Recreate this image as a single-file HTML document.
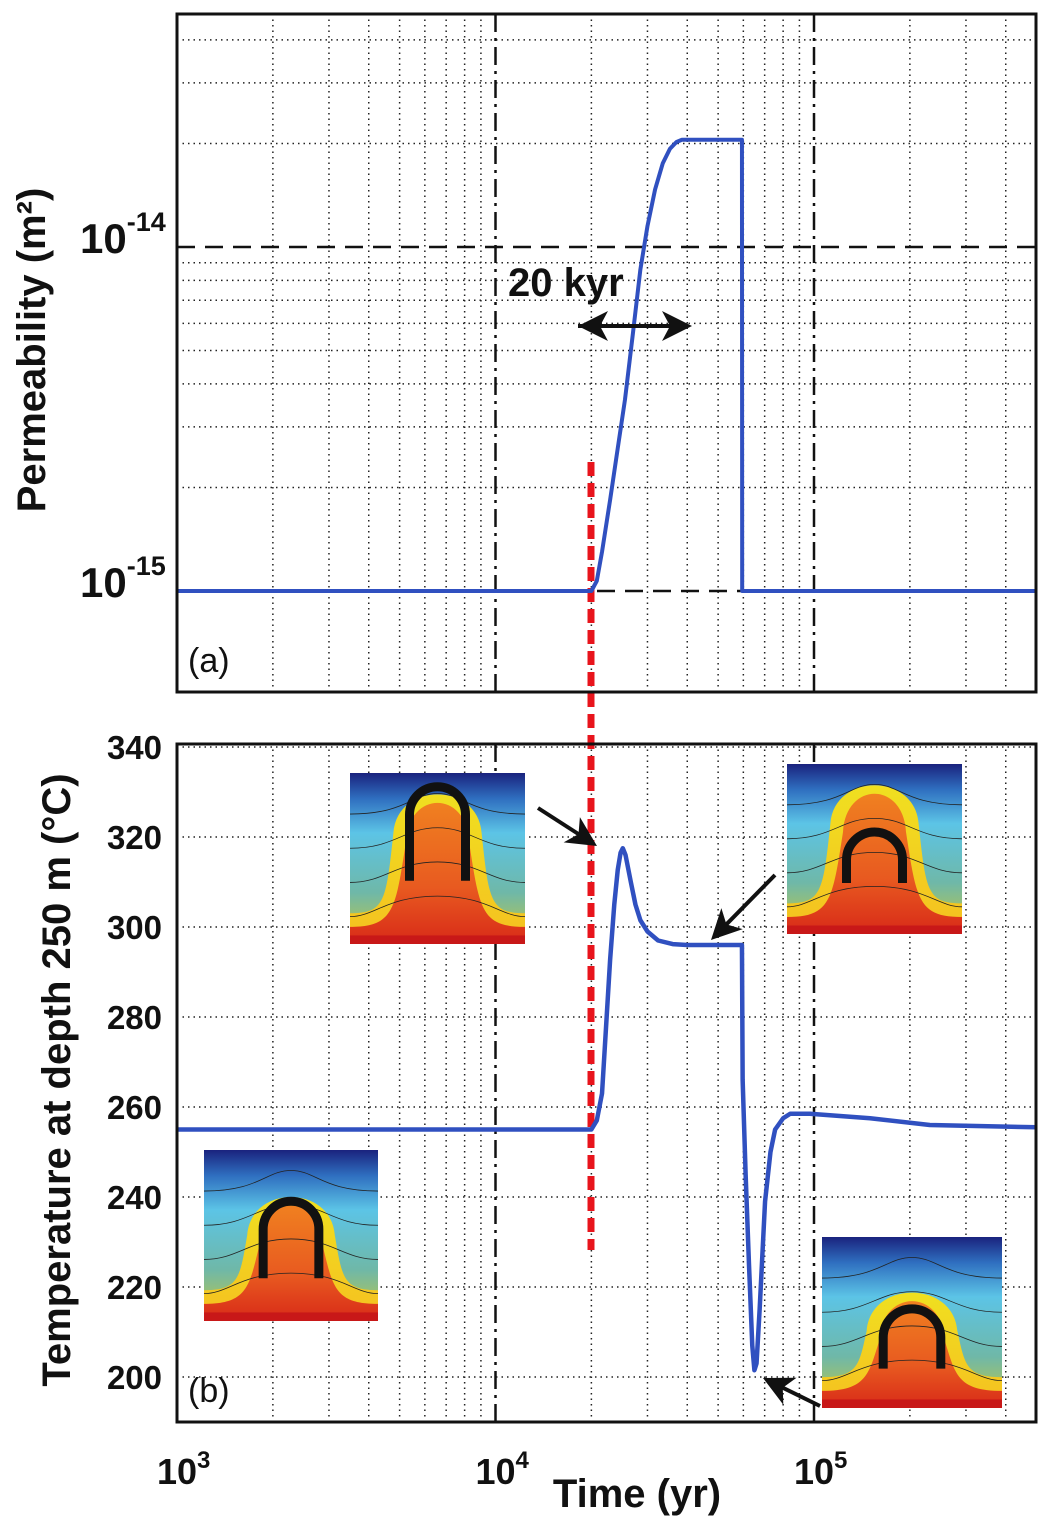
<!DOCTYPE html>
<html><head><meta charset="utf-8"><style>
body{margin:0;background:#fff;}
svg{display:block;}
text{font-family:"Liberation Sans Narrow","Liberation Sans",sans-serif;font-weight:bold;fill:#111;}
</style></head><body>
<svg id="fig" width="1040" height="1520" viewBox="0 0 1040 1520" xmlns="http://www.w3.org/2000/svg">
<defs>
<linearGradient id="bg" x1="0" y1="0" x2="0" y2="1">
<stop offset="0" stop-color="#1a237e"/><stop offset="0.15" stop-color="#2f6fc0"/><stop offset="0.35" stop-color="#5cc4e6"/><stop offset="0.7" stop-color="#6fb8a8"/><stop offset="0.85" stop-color="#9cc070"/><stop offset="1" stop-color="#c8d050"/>
</linearGradient>
<linearGradient id="plume" x1="0" y1="0" x2="0" y2="1">
<stop offset="0" stop-color="#f0e020"/><stop offset="1" stop-color="#f5c020"/>
</linearGradient>
<linearGradient id="core" x1="0" y1="0" x2="0" y2="1">
<stop offset="0" stop-color="#f08020"/><stop offset="0.6" stop-color="#e85a20"/><stop offset="1" stop-color="#d82a18"/>
</linearGradient>
</defs>
<g id="grid"></g>
<g id="plots"></g>
<g id="ann"></g>
</svg>
<script>
// ---- data ----
const permTimes = [1000, 20000, 20800, 21600, 22900, 24200, 25500, 27000, 28500, 30000, 31700, 33500, 35300, 37000, 38500, 59400, 59500, 500000];
const permValues = [1e-15, 1e-15, 1.07e-15, 1.3e-15, 1.84e-15, 2.6e-15, 3.6e-15, 5.6e-15, 8.6e-15, 1.15e-14, 1.47e-14, 1.75e-14, 1.93e-14, 2.02e-14, 2.05e-14, 2.05e-14, 1e-15, 1e-15];
const tempTimes = [1000, 20000, 20800, 21600, 22900, 23600, 24200, 24700, 25100, 25600, 26600, 27500, 28500, 30000, 32400, 36000, 40000, 59400, 59700, 61000, 62500, 64000, 65000, 66000, 67500, 70200, 73000, 75500, 80000, 84200, 97000, 150000, 231000, 500000];
const tempValues = [255, 255, 257, 263, 292.7, 305, 312.7, 316.5, 317.5, 316, 310, 305, 301.5, 299, 297, 296.2, 296, 296, 266, 245, 225, 207, 201.5, 203, 215, 239, 250, 255, 257.5, 258.5, 258.5, 257.5, 256, 255.5];
const xTickLabels = ["3", "4", "5"];
const tempTicks = [200, 220, 240, 260, 280, 300, 320, 340];
const permTickExps = ["-15", "-14"];

const NS = "http://www.w3.org/2000/svg";
const X0 = 177, X1 = 1036, DEC = 318.5;
const A0 = 14, A1 = 692, B0 = 744, B1 = 1422;
function xS(t){ return X0 + (Math.log10(t) - 3) * DEC; }
function yA(k){ return 591 - (Math.log10(k) + 15) * 344; }
function yB(T){ return 1377 - (T - 200) * 4.5; }
function mk(tag, attrs, parent){ const e = document.createElementNS(NS, tag); for (const k in attrs) e.setAttribute(k, attrs[k]); parent.appendChild(e); return e; }
const grid = document.getElementById('grid'), plots = document.getElementById('plots'), ann = document.getElementById('ann');
const GS = {stroke:'#222', 'stroke-width':1.5, 'stroke-dasharray':'1.5 4'};

for (let d = 3; d <= 5; d++) for (let m = 2; m <= 9; m++) {
  const t = m * Math.pow(10, d); const x = xS(t); if (x >= X1) continue;
  for (const [y0, y1] of [[A0, A1], [B0, B1]]) {
    const l = mk('line', Object.assign({x1:x, x2:x, y1:y0, y2:y1}, GS), grid);
    
    
  }
}
for (let d = -15; d <= -14; d++) for (let m = 2; m <= 9; m++) {
  const y = yA(m * Math.pow(10, d)); if (y < A0) continue;
  const l = mk('line', Object.assign({x1:X0, x2:X1, y1:y, y2:y}, GS), grid);
  
  
}
tempTicks.forEach(T => {
  const y = yB(T);
  const l = mk('line', Object.assign({x1:X0, x2:X1, y1:y, y2:y}, GS), grid);
  
  
});
[1e4, 1e5].forEach(t => {
  for (const [y0, y1] of [[A0, A1], [B0, B1]]) {
    const l = mk('line', {x1:xS(t), x2:xS(t), y1:y0, y2:y1, stroke:'#111', 'stroke-width':2.5, 'stroke-dasharray':'18 6 3 6'}, grid);
    
    
  }
});
[1e-15, 1e-14].forEach(k => {
  const l = mk('line', {x1:X0, x2:X1, y1:yA(k), y2:yA(k), stroke:'#111', 'stroke-width':2.5, 'stroke-dasharray':'18 10'}, grid);
  
  
});

function inset(x, y, w, h, archTop, archH, plumeTop, name){
  const g = mk('g', {}, plots);
  
  
  mk('rect', {x:x, y:y, width:w, height:h, fill:'url(#bg)'}, g);
  const cx = x + w/2;
  const pw = w*0.42, py = y + h*plumeTop;
  mk('path', {d:`M${x} ${y+h*0.82} C${x+w*0.2} ${y+h*0.82} ${cx-pw*0.7} ${y+h*0.75} ${cx-pw*0.6} ${py+h*0.3} C${cx-pw*0.55} ${py} ${cx+pw*0.55} ${py} ${cx+pw*0.6} ${py+h*0.3} C${cx+pw*0.7} ${y+h*0.75} ${x+w*0.8} ${y+h*0.82} ${x+w} ${y+h*0.82} L${x+w} ${y+h} L${x} ${y+h} Z`, fill:'url(#plume)'}, g);
  const cw = w*0.3;
  mk('path', {d:`M${x} ${y+h*0.9} C${x+w*0.25} ${y+h*0.9} ${cx-cw*0.8} ${y+h*0.8} ${cx-cw*0.6} ${py+h*0.35} C${cx-cw*0.55} ${py+h*0.05} ${cx+cw*0.55} ${py+h*0.05} ${cx+cw*0.6} ${py+h*0.35} C${cx+cw*0.8} ${y+h*0.8} ${x+w*0.75} ${y+h*0.9} ${x+w} ${y+h*0.9} L${x+w} ${y+h} L${x} ${y+h} Z`, fill:'url(#core)'}, g);
  mk('rect', {x:x, y:y+h*0.95, width:w, height:h*0.05, fill:'#c81818'}, g);
  for (let i = 0; i < 4; i++) {
    const yy = y + h*(0.12 + i*0.2), ww = w*(0.18 + i*0.06);
    mk('path', {d:`M${x} ${yy+h*0.12} C${cx-ww} ${yy+h*0.12} ${cx-ww*0.8} ${yy} ${cx} ${yy} C${cx+ww*0.8} ${yy} ${cx+ww} ${yy+h*0.12} ${x+w} ${yy+h*0.12}`, fill:'none', stroke:'#222', 'stroke-width':0.8}, g);
  }
  const aw = w*0.16, at = y + h*archTop, ab = at + h*archH;
  mk('path', {d:`M${cx-aw} ${ab} L${cx-aw} ${at+aw} A${aw} ${aw} 0 0 1 ${cx+aw} ${at+aw} L${cx+aw} ${ab}`, fill:'none', stroke:'#111', 'stroke-width':9}, g);
}
inset(350, 773, 175, 171, 0.08, 0.55, 0.05, 'inset-peak');
inset(787, 764, 175, 170, 0.4, 0.3, 0.05, 'inset-plateau');
inset(204, 1150, 174, 171, 0.3, 0.45, 0.2, 'inset-initial');
inset(822, 1237, 180, 171, 0.42, 0.35, 0.25, 'inset-minimum');

const red = mk('line', {x1:591, x2:591, y1:462, y2:1250, stroke:'#e8141c', 'stroke-width':7, 'stroke-dasharray':'14 7'}, plots);



const pA = mk('polyline', {points: permTimes.map((t,i)=>xS(t)+','+yA(permValues[i])).join(' '), fill:'none', stroke:'#3050c0', 'stroke-width':4, 'stroke-linejoin':'round'}, plots);


const pB = mk('polyline', {points: tempTimes.map((t,i)=>xS(t)+','+yB(tempValues[i])).join(' '), fill:'none', stroke:'#3050c0', 'stroke-width':4.5, 'stroke-linejoin':'round'}, plots);



[[A0, A1, 'panel-a-frame'], [B0, B1, 'panel-b-frame']].forEach(([y0, y1, n]) => {
  const r = mk('rect', {x:X0, y:y0, width:X1-X0, height:y1-y0, fill:'none', stroke:'#111', 'stroke-width':3}, plots);
  
  
});

function txt(s, attrs, parent, name){ const e = mk('text', attrs, parent); e.textContent = s;   return e; }
xTickLabels.forEach((e, i) => {
  const x = xS(Math.pow(10, +e));
  const t = mk('text', {x:x-20, y:1484, 'font-size':36}, ann);
  
  
  t.textContent = '10';
  const s = mk('tspan', {dy:-16, 'font-size':24}, t); s.textContent = e;
});
permTickExps.forEach(e => {
  const y = yA(Math.pow(10, +e));
  const t = mk('text', {x:80, y:y+6, 'font-size':42}, ann);
  
  
  t.textContent = '10';
  const s = mk('tspan', {dy:-22, 'font-size':27}, t); s.textContent = e;
});
tempTicks.forEach(T => txt(String(T), {x:162, y:yB(T)+12, 'font-size':33, 'text-anchor':'end'}, ann, 'y-tick-label-b'));

txt('Permeability  (m²)', {x:0, y:0, 'font-size':40, 'text-anchor':'middle', transform:'translate(45,350) rotate(-90)'}, ann, 'y-axis-title-a');
txt('Temperature at depth 250 m  (°C)', {x:0, y:0, 'font-size':40, 'text-anchor':'middle', transform:'translate(70,1080) rotate(-90)'}, ann, 'y-axis-title-b');
txt('Time (yr)', {x:637, y:1507, 'font-size':40, 'text-anchor':'middle'}, ann, 'x-axis-title');
const pa = txt('(a)', {x:188, y:672, 'font-size':34}, ann, 'panel-label-a'); pa.style.fontWeight = 'normal'; pa.style.fontFamily = '"Liberation Sans",sans-serif';
const pb = txt('(b)', {x:188, y:1402, 'font-size':34}, ann, 'panel-label-b'); pb.style.fontWeight = 'normal'; pb.style.fontFamily = '"Liberation Sans",sans-serif';
txt('20 kyr', {x:508, y:296, 'font-size':40}, ann, 'duration-label');

function arrow(x1, y1, x2, y2, name, both){
  const g = mk('g', {}, ann);
  
  
  const a = Math.atan2(y2-y1, x2-x1), L = 30, W = 15;
  function head(px, py, ang){
    const bx = px - L*Math.cos(ang), by = py - L*Math.sin(ang);
    mk('polygon', {points:`${px},${py} ${bx - W*Math.sin(ang)},${by + W*Math.cos(ang)} ${bx + 8*Math.cos(ang)},${by + 8*Math.sin(ang)} ${bx + W*Math.sin(ang)},${by - W*Math.cos(ang)}`, fill:'#111'}, g);
  }
  mk('line', {x1:x1, y1:y1, x2:x2 - 18*Math.cos(a), y2:y2 - 18*Math.sin(a), stroke:'#111', 'stroke-width':4}, g);
  head(x2, y2, a);
  if (both) head(x1, y1, a + Math.PI);
}
arrow(578, 326, 692, 326, 'duration-arrow', true);
arrow(538, 808, 597, 846, 'arrow-peak');
arrow(775, 875, 711, 940, 'arrow-plateau');
arrow(820, 1406, 763, 1378, 'arrow-minimum');
</script>
</body></html>
